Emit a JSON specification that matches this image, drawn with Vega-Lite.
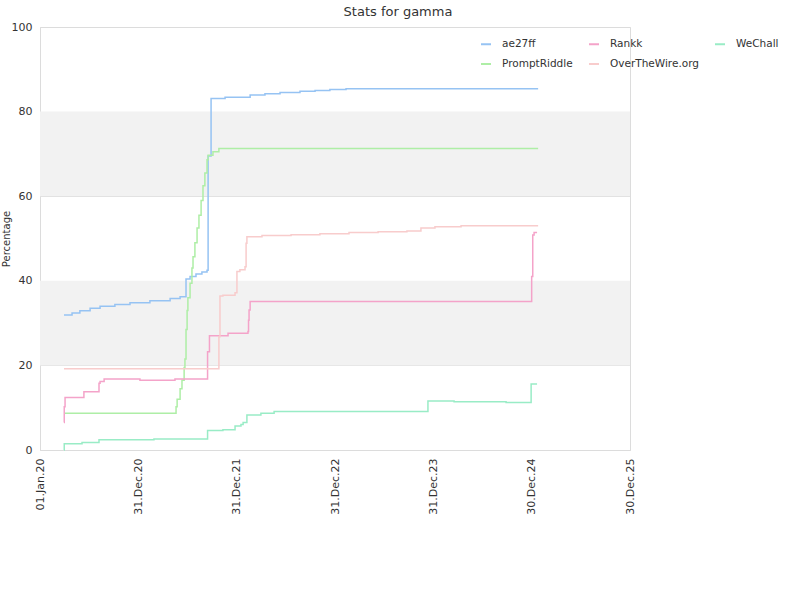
{
  "$schema": "https://vega.github.io/schema/vega-lite/v6.json",
  "width": 590,
  "height": 423,
  "autosize": {"type": "none"},
  "padding": {"left": 40, "top": 27, "right": 170, "bottom": 150},
  "background": "white",
  "title": {"text": "Stats for gamma", "fontSize": 13, "font": "DejaVu Sans", "fontWeight": "normal", "color": "#333333", "anchor": "middle", "frame": "group", "dx": 63, "offset": 2},
  "config": {
    "font": "DejaVu Sans",
    "view": {"stroke": "#dcdcdc"},
    "axis": {"domainColor": "#dcdcdc", "gridColor": "#dcdcdc", "ticks": false, "labelColor": "#333333", "labelFontSize": 11, "labelFont": "DejaVu Sans", "titleFont": "DejaVu Sans", "titleFontWeight": "normal", "titleFontSize": 10, "titleColor": "#333333"},
    "legend": {"labelFont": "DejaVu Sans"}
  },
  "datasets": {
    "bands": [{"lo": 20, "hi": 40}, {"lo": 60, "hi": 80}],
    "stats": [
      {"site": "ae27ff", "date": "2020-03-30", "value": 31.9},
      {"site": "ae27ff", "date": "2020-04-29", "value": 32.4},
      {"site": "ae27ff", "date": "2020-05-28", "value": 32.9},
      {"site": "ae27ff", "date": "2020-07-05", "value": 33.5},
      {"site": "ae27ff", "date": "2020-08-11", "value": 34.0},
      {"site": "ae27ff", "date": "2020-10-05", "value": 34.4},
      {"site": "ae27ff", "date": "2020-11-30", "value": 34.8},
      {"site": "ae27ff", "date": "2021-02-12", "value": 35.3},
      {"site": "ae27ff", "date": "2021-04-28", "value": 35.8},
      {"site": "ae27ff", "date": "2021-06-04", "value": 36.2},
      {"site": "ae27ff", "date": "2021-06-26", "value": 40.4},
      {"site": "ae27ff", "date": "2021-07-11", "value": 41.0},
      {"site": "ae27ff", "date": "2021-08-02", "value": 41.6},
      {"site": "ae27ff", "date": "2021-08-24", "value": 42.1},
      {"site": "ae27ff", "date": "2021-09-12", "value": 42.5},
      {"site": "ae27ff", "date": "2021-09-16", "value": 69.5},
      {"site": "ae27ff", "date": "2021-09-27", "value": 83.1},
      {"site": "ae27ff", "date": "2021-11-18", "value": 83.4},
      {"site": "ae27ff", "date": "2022-02-19", "value": 83.9},
      {"site": "ae27ff", "date": "2022-04-15", "value": 84.2},
      {"site": "ae27ff", "date": "2022-06-10", "value": 84.5},
      {"site": "ae27ff", "date": "2022-08-23", "value": 84.8},
      {"site": "ae27ff", "date": "2022-10-18", "value": 85.0},
      {"site": "ae27ff", "date": "2022-12-12", "value": 85.2},
      {"site": "ae27ff", "date": "2023-02-10", "value": 85.4},
      {"site": "ae27ff", "date": "2025-01-23", "value": 85.4},

      {"site": "PromptRiddle", "date": "2020-03-30", "value": 8.7},
      {"site": "PromptRiddle", "date": "2021-05-20", "value": 10.2},
      {"site": "PromptRiddle", "date": "2021-05-24", "value": 12.0},
      {"site": "PromptRiddle", "date": "2021-06-04", "value": 14.5},
      {"site": "PromptRiddle", "date": "2021-06-11", "value": 16.5},
      {"site": "PromptRiddle", "date": "2021-06-19", "value": 19.5},
      {"site": "PromptRiddle", "date": "2021-06-22", "value": 21.5},
      {"site": "PromptRiddle", "date": "2021-06-26", "value": 28.5},
      {"site": "PromptRiddle", "date": "2021-06-30", "value": 33.0},
      {"site": "PromptRiddle", "date": "2021-07-03", "value": 36.0},
      {"site": "PromptRiddle", "date": "2021-07-11", "value": 39.4},
      {"site": "PromptRiddle", "date": "2021-07-18", "value": 43.0},
      {"site": "PromptRiddle", "date": "2021-07-22", "value": 45.7},
      {"site": "PromptRiddle", "date": "2021-07-29", "value": 49.0},
      {"site": "PromptRiddle", "date": "2021-08-06", "value": 52.5},
      {"site": "PromptRiddle", "date": "2021-08-13", "value": 55.5},
      {"site": "PromptRiddle", "date": "2021-08-21", "value": 59.0},
      {"site": "PromptRiddle", "date": "2021-08-28", "value": 62.5},
      {"site": "PromptRiddle", "date": "2021-09-04", "value": 65.5},
      {"site": "PromptRiddle", "date": "2021-09-12", "value": 68.6},
      {"site": "PromptRiddle", "date": "2021-09-16", "value": 69.7},
      {"site": "PromptRiddle", "date": "2021-10-04", "value": 70.5},
      {"site": "PromptRiddle", "date": "2021-10-26", "value": 71.3},
      {"site": "PromptRiddle", "date": "2025-01-23", "value": 71.3},

      {"site": "Rankk", "date": "2020-03-30", "value": 6.5},
      {"site": "Rankk", "date": "2020-03-31", "value": 10.2},
      {"site": "Rankk", "date": "2020-04-03", "value": 12.4},
      {"site": "Rankk", "date": "2020-06-12", "value": 13.8},
      {"site": "Rankk", "date": "2020-08-07", "value": 15.8},
      {"site": "Rankk", "date": "2020-08-11", "value": 16.2},
      {"site": "Rankk", "date": "2020-08-26", "value": 16.8},
      {"site": "Rankk", "date": "2021-01-06", "value": 16.5},
      {"site": "Rankk", "date": "2021-05-16", "value": 16.8},
      {"site": "Rankk", "date": "2021-09-14", "value": 23.2},
      {"site": "Rankk", "date": "2021-09-21", "value": 27.0},
      {"site": "Rankk", "date": "2021-11-29", "value": 27.6},
      {"site": "Rankk", "date": "2022-02-11", "value": 28.0},
      {"site": "Rankk", "date": "2022-02-13", "value": 30.7},
      {"site": "Rankk", "date": "2022-02-15", "value": 33.1},
      {"site": "Rankk", "date": "2022-02-19", "value": 35.1},
      {"site": "Rankk", "date": "2024-12-30", "value": 41.0},
      {"site": "Rankk", "date": "2025-01-03", "value": 50.8},
      {"site": "Rankk", "date": "2025-01-08", "value": 51.4},
      {"site": "Rankk", "date": "2025-01-19", "value": 51.4},

      {"site": "OverTheWire.org", "date": "2020-03-30", "value": 19.2},
      {"site": "OverTheWire.org", "date": "2021-10-26", "value": 26.8},
      {"site": "OverTheWire.org", "date": "2021-10-30", "value": 36.4},
      {"site": "OverTheWire.org", "date": "2021-11-10", "value": 36.6},
      {"site": "OverTheWire.org", "date": "2021-12-25", "value": 37.2},
      {"site": "OverTheWire.org", "date": "2022-01-01", "value": 42.2},
      {"site": "OverTheWire.org", "date": "2022-01-12", "value": 42.6},
      {"site": "OverTheWire.org", "date": "2022-01-31", "value": 43.3},
      {"site": "OverTheWire.org", "date": "2022-02-04", "value": 48.9},
      {"site": "OverTheWire.org", "date": "2022-02-07", "value": 50.4},
      {"site": "OverTheWire.org", "date": "2022-04-04", "value": 50.7},
      {"site": "OverTheWire.org", "date": "2022-07-21", "value": 50.9},
      {"site": "OverTheWire.org", "date": "2022-11-05", "value": 51.1},
      {"site": "OverTheWire.org", "date": "2023-02-21", "value": 51.4},
      {"site": "OverTheWire.org", "date": "2023-06-09", "value": 51.6},
      {"site": "OverTheWire.org", "date": "2023-09-24", "value": 51.8},
      {"site": "OverTheWire.org", "date": "2023-11-15", "value": 52.5},
      {"site": "OverTheWire.org", "date": "2024-01-06", "value": 52.8},
      {"site": "OverTheWire.org", "date": "2024-04-12", "value": 53.0},
      {"site": "OverTheWire.org", "date": "2025-01-23", "value": 53.0},

      {"site": "WeChall", "date": "2020-03-30", "value": 0.0},
      {"site": "WeChall", "date": "2020-03-31", "value": 1.5},
      {"site": "WeChall", "date": "2020-06-05", "value": 1.8},
      {"site": "WeChall", "date": "2020-08-07", "value": 2.4},
      {"site": "WeChall", "date": "2021-02-27", "value": 2.6},
      {"site": "WeChall", "date": "2021-09-14", "value": 4.6},
      {"site": "WeChall", "date": "2021-11-10", "value": 4.8},
      {"site": "WeChall", "date": "2021-12-25", "value": 5.7},
      {"site": "WeChall", "date": "2022-01-16", "value": 6.0},
      {"site": "WeChall", "date": "2022-01-24", "value": 6.5},
      {"site": "WeChall", "date": "2022-02-07", "value": 8.3},
      {"site": "WeChall", "date": "2022-03-31", "value": 8.7},
      {"site": "WeChall", "date": "2022-05-19", "value": 9.1},
      {"site": "WeChall", "date": "2023-12-11", "value": 11.6},
      {"site": "WeChall", "date": "2024-03-17", "value": 11.4},
      {"site": "WeChall", "date": "2024-09-26", "value": 11.2},
      {"site": "WeChall", "date": "2024-12-28", "value": 15.6},
      {"site": "WeChall", "date": "2025-01-19", "value": 15.6}
    ]
  },
  "layer": [
    {
      "data": {"name": "bands"},
      "mark": {"type": "rect", "fill": "#f2f2f2"},
      "encoding": {
        "y": {"field": "lo", "type": "quantitative", "title": "Percentage", "scale": {"domain": [0, 100], "nice": false}, "axis": {"values": [0, 20, 40, 60, 80, 100], "grid": true, "labelPadding": 8, "titlePadding": 0}},
        "y2": {"field": "hi"}
      }
    },
    {
      "data": {"name": "stats"},
      "mark": {"type": "line", "interpolate": "step-after", "strokeWidth": 1.5},
      "encoding": {
        "x": {
          "field": "date",
          "type": "temporal",
          "scale": {"type": "utc", "nice": false, "domain": [{"year": 2020, "month": 1, "date": 1, "utc": true}, {"year": 2025, "month": 12, "date": 30, "utc": true}]},
          "axis": {
            "title": null,
            "grid": false,
            "labelAngle": -90,
            "labelPadding": 8,
            "format": "%d.%b.%y",
            "values": [
              {"year": 2020, "month": 1, "date": 1, "utc": true},
              {"year": 2020, "month": 12, "date": 31, "utc": true},
              {"year": 2021, "month": 12, "date": 31, "utc": true},
              {"year": 2022, "month": 12, "date": 31, "utc": true},
              {"year": 2023, "month": 12, "date": 31, "utc": true},
              {"year": 2024, "month": 12, "date": 30, "utc": true},
              {"year": 2025, "month": 12, "date": 30, "utc": true}
            ]
          }
        },
        "y": {"field": "value", "type": "quantitative", "title": "Percentage", "scale": {"domain": [0, 100], "nice": false}, "axis": {"values": [0, 20, 40, 60, 80, 100], "grid": true, "labelPadding": 8, "titlePadding": 0}},
        "color": {
          "field": "site",
          "type": "nominal",
          "scale": {"domain": ["ae27ff", "PromptRiddle", "Rankk", "OverTheWire.org", "WeChall"], "range": ["#96c3f3", "#aeeea6", "#f4a3c9", "#f8cccc", "#99ecc6"]},
          "legend": {"orient": "none", "legendX": 440, "legendY": 11, "columns": 3, "title": null, "symbolType": "stroke", "symbolStrokeWidth": 2, "symbolSize": 100, "labelFontSize": 10.5, "labelColor": "#333333", "columnPadding": 12, "rowPadding": 8, "labelOffset": 10}
        }
      }
    }
  ]
}
